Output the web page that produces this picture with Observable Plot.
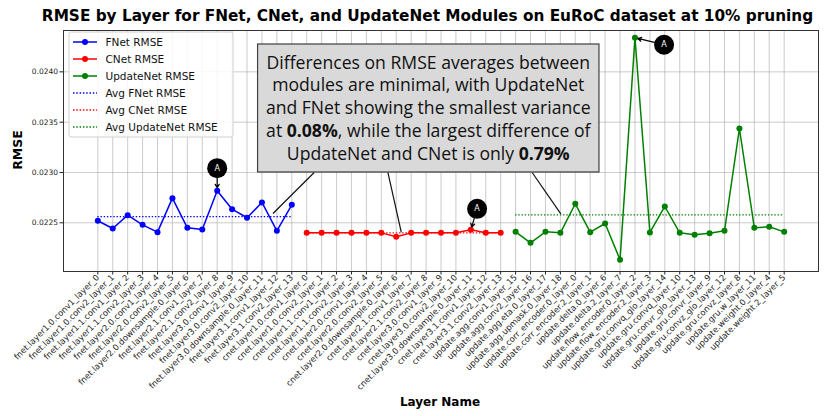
<!DOCTYPE html>
<html><head><meta charset="utf-8">
<script src="https://cdn.jsdelivr.net/npm/d3@7"></script>
<script src="https://cdn.jsdelivr.net/npm/@observablehq/plot@0.6"></script>
<style>
body{margin:0;background:#fff;}
#chart svg{font-family:"DejaVu Sans",sans-serif;}
</style>
</head><body><div id="chart"></div>
<script>
// ---- data ----
const fnetLayers = ["fnet.layer1.0.conv1_layer_0","fnet.layer1.0.conv2_layer_1","fnet.layer1.1.conv1_layer_2","fnet.layer1.1.conv2_layer_3","fnet.layer2.0.conv1_layer_4","fnet.layer2.0.conv2_layer_5","fnet.layer2.0.downsample.0_layer_6","fnet.layer2.1.conv1_layer_7","fnet.layer2.1.conv2_layer_8","fnet.layer3.0.conv1_layer_9","fnet.layer3.0.conv2_layer_10","fnet.layer3.0.downsample.0_layer_11","fnet.layer3.1.conv1_layer_12","fnet.layer3.1.conv2_layer_13"];
const fnetRmse = [0.02252,0.022443,0.022576,0.02248,0.022407,0.022745,0.02245,0.022433,0.022818,0.022635,0.02255,0.022702,0.02242,0.022679];
const cnetLayers = ["cnet.layer1.0.conv1_layer_0","cnet.layer1.0.conv2_layer_1","cnet.layer1.1.conv1_layer_2","cnet.layer1.1.conv2_layer_3","cnet.layer2.0.conv1_layer_4","cnet.layer2.0.conv2_layer_5","cnet.layer2.0.downsample.0_layer_6","cnet.layer2.1.conv1_layer_7","cnet.layer2.1.conv2_layer_8","cnet.layer3.0.conv1_layer_9","cnet.layer3.0.conv2_layer_10","cnet.layer3.0.downsample.0_layer_11","cnet.layer3.1.conv1_layer_12","cnet.layer3.1.conv2_layer_13"];
const cnetRmse = [0.0224,0.0224,0.0224,0.0224,0.0224,0.0224,0.022361,0.0224,0.0224,0.0224,0.0224,0.02243,0.0224,0.0224];
const updateLayers = ["update.agg.conv1_layer_15","update.agg.conv2_layer_16","update.agg.eta.0_layer_17","update.agg.upmask.0_layer_18","update.corr_encoder.0_layer_0","update.corr_encoder.2_layer_1","update.delta.0_layer_6","update.delta.2_layer_7","update.flow_encoder.0_layer_2","update.flow_encoder.2_layer_3","update.gru.convq_glo_layer_14","update.gru.convq_layer_10","update.gru.convr_glo_layer_13","update.gru.convr_layer_9","update.gru.convz_glo_layer_12","update.gru.convz_layer_8","update.gru.w_layer_11","update.weight.0_layer_4","update.weight.2_layer_5"];
const updateRmse = [0.02241,0.022301,0.02241,0.0224,0.022689,0.022407,0.022493,0.022132,0.024339,0.022404,0.022662,0.0224,0.022381,0.022395,0.02242,0.023437,0.02245,0.02246,0.02241];
const moduleNames = ["FNet","CNet","UpdateNet"];
const moduleColors = ["#0000ff","#ff0000","#008000"];
const yTicks = [0.0225,0.0230,0.0235,0.0240];
const titleText = "RMSE by Layer for FNet, CNet, and UpdateNet Modules on EuRoC dataset at 10% pruning";
const xLabel = "Layer Name";
const yLabel = "RMSE";
// note box text (segments: [text, bold])
const noteLines = [
  [["Differences on RMSE averages between", false]],
  [["modules are minimal, with UpdateNet", false]],
  [["and FNet showing the smallest variance", false]],
  [["at ", false],["0.08%", true],[", while the largest difference of", false]],
  [["UpdateNet and CNet is only ", false],["0.79%", true]]
];
// annotation anchors in data space (x = layer index, y = RMSE)
const noteBox = {x1: 10.74, x2: 33.62, y1: 0.02300, y2: 0.024272};
const noteLinks = [
  {x1: 14.5, y1: 0.02300, x2: 11.74, y2: 0.022592},
  {x1: 19.44, y1: 0.02300, x2: 20.34, y2: 0.022404},
  {x1: 29.11, y1: 0.02300, x2: 31.03, y2: 0.022589}
];
const markers = [
  {cx: 8, cy: 0.023043, tx: 8, ty: 0.022818, label: "A"},
  {cx: 25.42, cy: 0.022639, tx: 25, ty: 0.02243, label: "A"},
  {cx: 37.95, cy: 0.024269, tx: 36, ty: 0.024339, label: "A"}
];

// ---- build table ----
const groups = [[fnetLayers, fnetRmse],[cnetLayers, cnetRmse],[updateLayers, updateRmse]];
const names = [];
const rows = [];
const avgs = [];
groups.forEach(([layers, vals], m) => {
  const start = names.length;
  layers.forEach((l, j) => { rows.push({i: names.length, layer: l, rmse: vals[j], module: moduleNames[m], color: moduleColors[m]}); names.push(l); });
  avgs.push({x1: start, x2: names.length - 1, y: d3.mean(vals), color: moduleColors[m]});
});
const n = names.length;
const pad = (n - 1) * 0.05;

const chart = Plot.plot({
  width: 830, height: 416,
  marginLeft: 63, marginRight: 12, marginTop: 30, marginBottom: 145,
  style: {fontFamily: "DejaVu Sans, sans-serif", fontSize: "7.5px", background: "#fff", color: "#222"},
  x: {type: "linear", domain: [-pad, n - 1 + pad]},
  y: {domain: [0.022016, 0.024411]},
  marks: [
    Plot.gridY(yTicks, {stroke: "#a8a8a8", strokeOpacity: 0.6}),
    Plot.gridX(d3.range(n), {stroke: "#a8a8a8", strokeOpacity: 0.6}),
    Plot.axisY(yTicks, {tickFormat: d3.format(".4f"), tickSize: 3.5, tickPadding: 2, label: null, fontSize: 7.5}),
    Plot.axisX(d3.range(n), {tickFormat: i => names[i], tickRotate: -45, tickSize: 3.5, tickPadding: 1, label: null, fontSize: 8.4}),
    Plot.ruleY(avgs, {x1: "x1", x2: "x2", y: "y", stroke: "color", strokeWidth: 1.1, strokeDasharray: "1.4,1.8"}),
    Plot.line(rows, {x: "i", y: "rmse", z: "module", stroke: "color", strokeWidth: 1.5}),
    Plot.dot(rows, {x: "i", y: "rmse", fill: "color", r: 3}),
    Plot.link(noteLinks, {x1: "x1", y1: "y1", x2: "x2", y2: "y2", stroke: "#111", strokeWidth: 1.2}),
    Plot.rect([noteBox], {x1: "x1", x2: "x2", y1: "y1", y2: "y2", fill: "#d9d9d9", stroke: "#404040", strokeWidth: 1.2}),
    Plot.arrow(markers, {x1: "cx", y1: "cy", x2: "tx", y2: "ty", stroke: "#000", strokeWidth: 1.2, insetStart: 10, insetEnd: 3, headLength: 5, bend: false}),
    Plot.dot(markers, {x: "cx", y: "cy", r: 10, fill: "#000"}),
    Plot.text(markers, {x: "cx", y: "cy", text: "label", fill: "#fff", fontSize: 8}),
    Plot.frame({stroke: "#333"})
  ]
});
document.getElementById("chart").appendChild(chart);

const svg = d3.select(chart);
const xs = chart.scale("x"), ys = chart.scale("y");
// note text
const noteCx = (xs.apply(noteBox.x1) + xs.apply(noteBox.x2)) / 2;
const noteTop = ys.apply(noteBox.y2), noteBot = ys.apply(noteBox.y1);
const lh = 22.7;
const noteY0 = (noteTop + noteBot) / 2 - lh * (noteLines.length - 1) / 2;
const note = svg.append("text").attr("text-anchor", "middle").attr("font-family", "'Open Sans', sans-serif").attr("font-size", 17.6).attr("fill", "#111");
noteLines.forEach((segs, k) => {
  segs.forEach((s, j) => {
    const t = note.append("tspan").text(s[0]).attr("font-weight", s[1] ? "bold" : null);
    if (j === 0) t.attr("x", noteCx).attr("y", noteY0 + k * lh).attr("dy", "0.35em");
  });
});
// title & axis labels
svg.append("text").attr("x", 427.5).attr("y", 21).attr("text-anchor", "middle").attr("font-weight", "bold").attr("font-size", 15.3).attr("fill", "#000").text(titleText);
svg.append("text").attr("x", 440).attr("y", 406).attr("text-anchor", "middle").attr("font-weight", "bold").attr("font-size", 12).attr("fill", "#000").text(xLabel);
svg.append("text").attr("transform", "translate(22,150) rotate(-90)").attr("text-anchor", "middle").attr("font-weight", "bold").attr("font-size", 12.5).attr("fill", "#000").text(yLabel);
// legend
const lg = svg.append("g").attr("transform", "translate(69,32)");
lg.append("rect").attr("width", 164).attr("height", 105).attr("rx", 2).attr("fill", "#fff").attr("fill-opacity", 0.85).attr("stroke", "#d0d0d0");
const entries = moduleNames.map((m, k) => ({label: m + " RMSE", color: moduleColors[k], dotted: false}))
  .concat(moduleNames.map((m, k) => ({label: "Avg " + m + " RMSE", color: moduleColors[k], dotted: true})));
entries.forEach((e, k) => {
  const yy = 10 + k * 17;
  const ln = lg.append("path").attr("d", `M4,${yy}H28`).attr("fill", "none")
    .style("stroke", e.color).style("stroke-width", e.dotted ? 1.3 : 1.5);
  if (e.dotted) ln.style("stroke-dasharray", "1.5,1.8");
  if (!e.dotted) lg.append("circle").attr("cx", 16).attr("cy", yy).attr("r", 3).style("fill", e.color);
  lg.append("text").attr("x", 36.5).attr("y", yy).attr("dy", "0.35em").attr("text-anchor", "start").attr("font-size", 10.5).attr("fill", "#111").text(e.label);
});
</script>
</body></html>
